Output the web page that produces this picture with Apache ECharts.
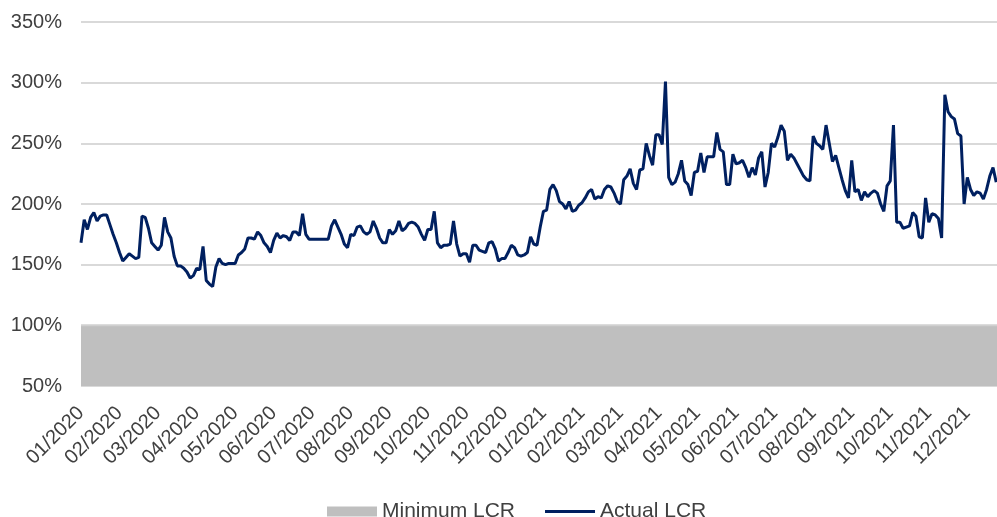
<!DOCTYPE html>
<html>
<head>
<meta charset="utf-8">
<script src="https://cdn.jsdelivr.net/npm/echarts@6/dist/echarts.min.js"></script>
<style>html,body{margin:0;padding:0;background:#fff;}#chart{width:997px;height:517px;}</style>
</head>
<body>
<div id="chart"></div>
<script>
// Month tick labels (x axis, one per month start)
var monthLabels = ['01/2020','02/2020','03/2020','04/2020','05/2020','06/2020','07/2020','08/2020','09/2020','10/2020','11/2020','12/2020',
                   '01/2021','02/2021','03/2021','04/2021','05/2021','06/2021','07/2021','08/2021','09/2021','10/2021','11/2021','12/2021'];
// Observations per month (sampling of the daily series)
var samplesPerMonth = 12;
// Actual LCR (%) 2020
var actualLcr2020 = [168,187,179,189,193,186,190,191,191,183,
  175,168,160,153,156,159,157,155,156,190,
  189,180,168,165,162,166,189,177,172,157,
  149,149,147,144,139,141,147,146,165,137,
  134,132,148,155,151,150,151,151,151,158,
  160,163,172,172,171,177,174,168,165,160,
  170,176,172,174,173,170,177,177,174,192,
  175,171,171,171,171,171,171,171,182,187,
  181,175,167,164,175,174,181,182,177,175,
  177,186,180,172,168,168,179,175,178,186,
  178,180,184,185,184,181,175,170,179,179,
  194,168,164,166,166,167,186,167,157,159,
  159,152,166,166,162,161,160,168,169,163,
  153,155,155,160,166,164,158,157,158,160,
  173,167,166,181];
// Actual LCR (%) 2021
var actualLcr2021 = [194,195,212,216,211,202,
  200,196,202,194,195,199,201,205,210,212,
  204,206,205,212,215,214,209,202,200,220,
  223,229,217,212,228,229,250,240,232,257,
  257,249,301,222,216,218,225,236,219,216,
  207,226,227,242,226,239,239,239,259,245,
  243,216,216,241,233,234,236,230,222,230,
  224,238,243,214,226,250,247,255,265,260,
  236,241,238,233,228,223,220,219,256,250,
  248,245,265,250,235,240,230,220,211,205,
  236,210,212,203,210,206,209,211,209,200,
  194,215,219,265,185,185,180,181,182,193,
  190,173,172,205,185,192,191,188,172,290,
  276,272,270,258,256,200,222,212,207,210,
  209,204,212,223,230,218];
// Regulatory minimum LCR (%)
var minimumLcrLevel = 100;
// Y axis ticks
var yMin = 50, yMax = 350, yStep = 50;

var actual = actualLcr2020.concat(actualLcr2021);
var xMax = 23.77;
var actualData = actual.map(function (v, i) { return [i / samplesPerMonth, v]; });
var minData = [[0, minimumLcrLevel], [xMax, minimumLcrLevel]];

var chart = echarts.init(document.getElementById('chart'));
var font = 'Liberation Sans, Arial, sans-serif';
chart.setOption({
  animation: false,
  backgroundColor: '#ffffff',
  grid: { left: 81, right: 0, top: 22, bottom: 131, containLabel: false },
  legend: {
    left: 322, top: 496,
    itemGap: 30,
    itemWidth: 50, itemHeight: 10,
    symbolKeepAspect: true,
    textStyle: { fontFamily: font, fontSize: 21, color: '#404040' },
    data: [
      { name: 'Minimum LCR', icon: 'rect', itemStyle: { color: '#bfbfbf' } },
      { name: 'Actual LCR', icon: 'path://M0,0 L50,0 L50,3 L0,3 Z', itemStyle: { color: '#002060' } }
    ]
  },
  xAxis: {
    type: 'value', min: 0, max: xMax, interval: 1,
    axisLine: { show: false }, axisTick: { show: false },
    splitLine: { show: false },
    axisLabel: {
      rotate: 45, margin: 24, fontFamily: font, fontSize: 20, color: '#404040',
      showMaxLabel: false,
      formatter: function (v) {
        return (Math.abs(v - Math.round(v)) < 1e-6 && monthLabels[Math.round(v)]) ? monthLabels[Math.round(v)] : '';
      }
    }
  },
  yAxis: {
    type: 'value', min: yMin, max: yMax, interval: yStep,
    axisLine: { show: false }, axisTick: { show: false },
    splitLine: { lineStyle: { color: '#d9d9d9', width: 2 } },
    axisLabel: { margin: 19, fontFamily: font, fontSize: 20, color: '#404040', formatter: '{value}%' }
  },
  series: [
    {
      name: 'Minimum LCR', type: 'line', data: minData, symbol: 'none',
      itemStyle: { color: '#bfbfbf' },
      lineStyle: { color: '#d0d0d0', width: 2 },
      areaStyle: { color: '#bfbfbf', opacity: 1, origin: 'start' },
      z: 1
    },
    {
      name: 'Actual LCR', type: 'line', data: actualData, symbol: 'none',
      itemStyle: { color: '#002060' },
      lineStyle: { color: '#002060', width: 3 },
      z: 3
    }
  ]
});
</script>
</body>
</html>
